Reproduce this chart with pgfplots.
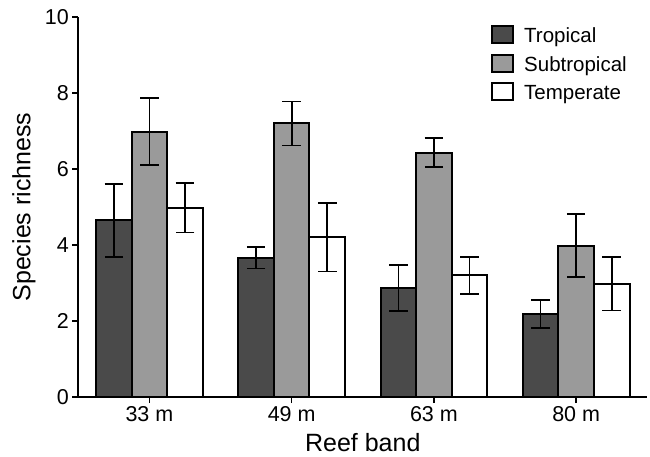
\documentclass[border=0pt]{standalone}
\usepackage{fontspec}
\setmainfont{Liberation Sans}
\usepackage{pgfplots}
\usepackage{pgfplotstable}
\pgfplotsset{compat=1.18}
\definecolor{tropical}{RGB}{74,74,74}
\definecolor{subtropical}{RGB}{154,154,154}

% x  value  error
\pgfplotstableread{
x  y     e
0  4.65  0.96
1  3.66  0.28
2  2.87  0.61
3  2.19  0.37
}\tropicaldata
\pgfplotstableread{
x  y     e
0  6.98  0.88
1  7.20  0.58
2  6.43  0.38
3  3.98  0.83
}\subtropicaldata
\pgfplotstableread{
x  y     e
0  4.98  0.65
1  4.20  0.90
2  3.20  0.49
3  2.98  0.70
}\temperatedata

\begin{document}
\begin{tikzpicture}
  \begin{axis}[
    scale only axis,
    width=569pt, height=380pt,
    xmin=-0.5, xmax=3.5, ymin=0, ymax=10,
    axis lines*=left,
    axis line style={line width=2pt, black},
    xtick={0,1,2,3},
    xticklabels={33 m,49 m,63 m,80 m},
    ytick={0,2,4,6,8,10},
    tick align=outside,
    major tick length=6pt,
    tick style={line width=1.6pt, black},
    tick label style={font=\fontsize{21.5}{24}\selectfont},
    /pgf/number format/assume math mode=true,
    xlabel={Reef band},
    ylabel={Species richness},
    label style={font=\fontsize{25}{28}\selectfont},
    xlabel style={at={(axis description cs:0.5,-0.121)}, anchor=center},
    ylabel style={at={(axis description cs:-0.0955,0.5)}, anchor=center},
    ybar,
    bar width=0.25,
    error bars/y dir=both,
    error bars/y explicit,
    error bars/error bar style={line width=1.7pt, black},
    error bars/error mark options={rotate=90, mark size=9.3pt, line width=1.7pt, black},
    legend image code/.code={
      \draw[#1, line width=2pt] (0pt,-7pt) rectangle (21pt,10pt);
      \path[draw=none, fill=none] (0pt,0pt) -- (30pt,0pt);},
    legend style={at={(axis description cs:0.72,0.985)}, anchor=north west,
      draw=none, fill=none, font=\fontsize{20.5}{24}\selectfont,
      row sep=7.5pt, cells={anchor=west}},
  ]
    \addplot[fill=tropical, draw=black, line width=2pt, bar shift=-0.25]
      table[x=x, y=y, y error=e] {\tropicaldata};
    \addlegendentry{Tropical}
    \addplot[fill=subtropical, draw=black, line width=2pt, bar shift=0]
      table[x=x, y=y, y error=e] {\subtropicaldata};
    \addlegendentry{Subtropical}
    \addplot[fill=white, draw=black, line width=2pt, bar shift=0.25]
      table[x=x, y=y, y error=e] {\temperatedata};
    \addlegendentry{Temperate}
  \end{axis}
  \pgfresetboundingbox
  \path[use as bounding box] (-78.3pt,-59pt) rectangle (571.7pt,397pt);
\end{tikzpicture}
\end{document}
